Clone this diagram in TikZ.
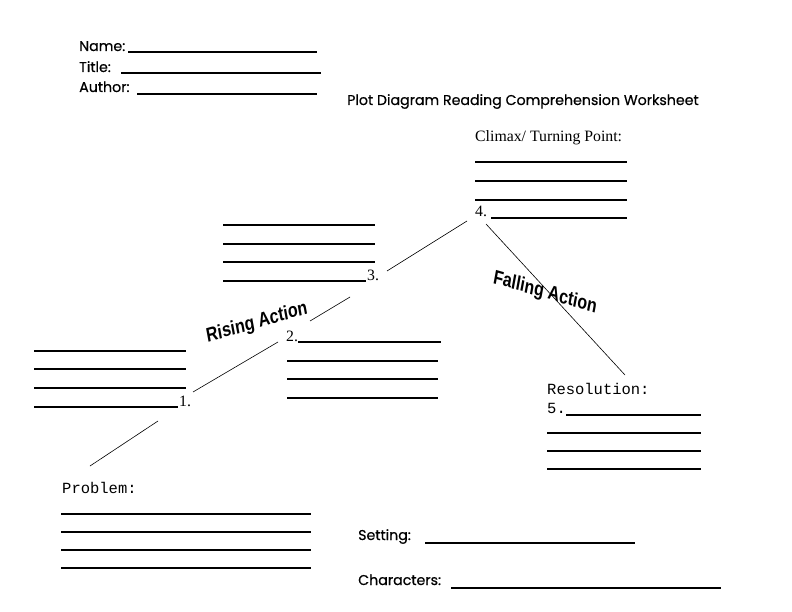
\documentclass[tikz,border=0pt]{standalone}
\usepackage{fontspec}
\setmainfont{Liberation Serif}
\newfontfamily\comicfont[FakeBold=0.5]{Poppins}
\newfontfamily\arialfont{Liberation Sans}
\newfontfamily\courierfont{Liberation Mono}
\usetikzlibrary{positioning}

\tikzset{
  blank/.style={line width=1.4pt},
  namerule/.style={line width=2.4pt},
  plotline/.style={line width=0.6pt},
  comic/.style={font=\comicfont\fontsize{14.2}{17}\selectfont, anchor=base west, inner sep=0pt},
  serif/.style={font=\fontsize{15.8}{18}\selectfont, anchor=base west, inner sep=0pt},
  mono/.style={font=\courierfont\fontsize{15.5}{18}\selectfont, anchor=base west, inner sep=0pt},
  wordart/.style={font=\arialfont\bfseries\fontsize{16}{18}\selectfont, inner sep=0pt, yscale=1.25}
}

\begin{document}
\begin{tikzpicture}[x=1pt,y=-1pt]
\useasboundingbox (0,0) rectangle (792,612);

% Intestazione
\node[comic] (name) at (79,51) {Name:};
\node[comic] (title) at (79,72) {Title:};
\node[comic] (author) at (79,92) {Author:};
\draw[namerule] (128,52) -- (317,52);
\draw[blank] (121,73) -- (321,73);
\draw[blank] (137,94) -- (317,94);

\node[comic] (head) at (347,105)
  {Plot Diagram Reading Comprehension Worksheet};

% Punti del diagramma
\coordinate (p0) at (90,466);
\coordinate (p1a) at (158,421);
\coordinate (p1b) at (193,392);
\coordinate (p2a) at (278,342);
\coordinate (p2b) at (310,321);
\coordinate (p3a) at (350,297);
\coordinate (p3b) at (387,271);
\coordinate (p4a) at (467,221);
\coordinate (p4b) at (486,224);
\coordinate (p5) at (625,375);

\draw[plotline] (p0) -- (p1a);
\draw[plotline] (p1b) -- (p2a);
\draw[plotline] (p2b) -- (p3a);
\draw[plotline] (p3b) -- (p4a);
\draw[plotline] (p4b) -- (p5);

% Etichette inclinate
\node[wordart, rotate=13] (rising) at (257,323) {Rising Action};
\node[wordart, rotate=-13] (falling) at (545,293) {Falling Action};

% Climax
\node[serif] (climax) at (475,142) {Climax/ Turning Point:};
\draw[blank] (475,162) -- (627,162);
\draw[blank] (475,181) -- (627,181);
\draw[blank] (475,200) -- (627,200);
\node[serif] (four) at (475,217) {4.};
\draw[blank] (491,218) -- (627,218);

% Punto 3
\draw[blank] (223,225) -- (375,225);
\draw[blank] (223,244) -- (375,244);
\draw[blank] (223,262) -- (375,262);
\draw[blank] (223,281) -- (366,281);
\node[serif] (three) at (367,280) {3.};

% Punto 2
\node[serif] (two) at (286,341) {2.};
\draw[blank] (298,342) -- (441,342);
\draw[blank] (287,361) -- (438,361);
\draw[blank] (287,379) -- (438,379);
\draw[blank] (287,398) -- (438,398);

% Punto 1
\draw[blank] (34,351) -- (186,351);
\draw[blank] (34,369) -- (186,369);
\draw[blank] (34,388) -- (186,388);
\draw[blank] (34,407) -- (178,407);
\node[serif] (one) at (179,406) {1.};

% Problema
\node[mono] (problem) at (62,493) {Problem:};
\draw[blank] (61,514) -- (311,514);
\draw[blank] (61,532) -- (311,532);
\draw[blank] (61,550) -- (311,550);
\draw[blank] (61,568) -- (311,568);

% Risoluzione
\node[mono] (resolution) at (547,394) {Resolution:};
\node[mono] (five) at (547,413) {5.};
\draw[blank] (566,415) -- (701,415);
\draw[blank] (547,433) -- (701,433);
\draw[blank] (547,451) -- (701,451);
\draw[blank] (547,469) -- (701,469);

% Ambientazione e personaggi
\node[comic] (setting) at (358,540) {Setting:};
\draw[blank] (425,543) -- (635,543);
\node[comic] (characters) at (358,585) {Characters:};
\draw[blank] (451,588) -- (721,588);
\end{tikzpicture}
\end{document}
